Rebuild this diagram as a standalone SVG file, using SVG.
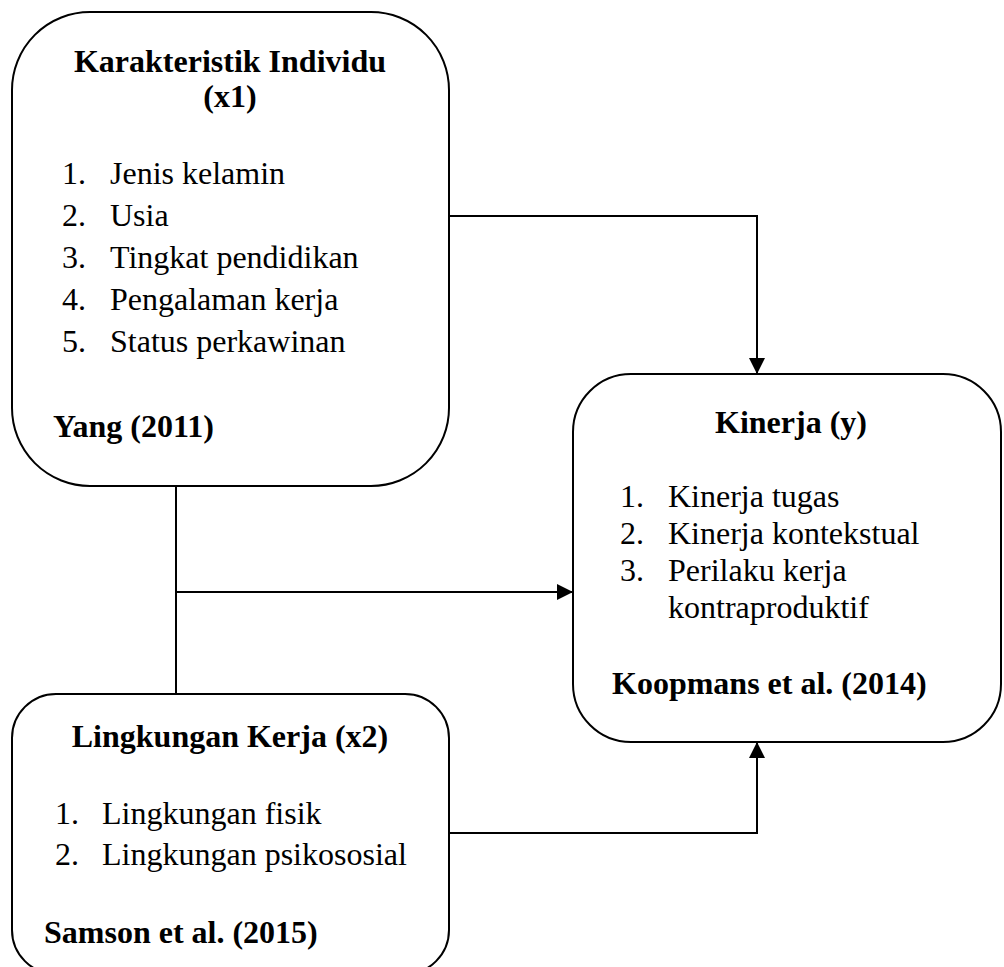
<svg xmlns="http://www.w3.org/2000/svg" width="1004" height="967" viewBox="0 0 1004 967">
  <style>
    .box { fill: #ffffff; stroke: #000000; stroke-width: 2; }
    .line { fill: none; stroke: #000000; stroke-width: 2; }
    text { font-family: "Liberation Serif", "Times New Roman", serif; font-size: 32px; fill: #000000; }
    .b { font-weight: bold; }
    .c { text-anchor: middle; }
  </style>
  <defs>
    <marker id="ah" markerWidth="16" markerHeight="16" refX="16" refY="8" orient="auto" markerUnits="userSpaceOnUse">
      <path d="M0,0 L16,8 L0,16 z" fill="#000000"/>
    </marker>
  </defs>
  <rect width="1004" height="967" fill="#ffffff"/>

  <g id="connectors">
    <polyline class="line" points="449,216 757,216 757,374" marker-end="url(#ah)"/>
    <line class="line" x1="176" y1="486" x2="176" y2="694"/>
    <line class="line" x1="176" y1="592" x2="573" y2="592" marker-end="url(#ah)"/>
    <polyline class="line" points="449,833 757,833 757,742" marker-end="url(#ah)"/>
  </g>

  <g id="node-x1">
    <rect class="box" x="12" y="12" width="437" height="474" rx="78" ry="78"/>
    <text class="b c" x="230" y="72">Karakteristik Individu</text>
    <text class="b c" x="230" y="107">(x1)</text>
    <text x="62" y="184">1.</text><text x="110" y="184">Jenis kelamin</text>
    <text x="62" y="226">2.</text><text x="110" y="226">Usia</text>
    <text x="62" y="268">3.</text><text x="110" y="268">Tingkat pendidikan</text>
    <text x="62" y="310">4.</text><text x="110" y="310">Pengalaman kerja</text>
    <text x="62" y="352">5.</text><text x="110" y="352">Status perkawinan</text>
    <text class="b" x="53" y="437">Yang (2011)</text>
  </g>

  <g id="node-y">
    <rect class="box" x="573" y="374" width="428" height="368" rx="58" ry="58"/>
    <text class="b c" x="791" y="433">Kinerja (y)</text>
    <text x="620" y="507">1.</text><text x="668" y="507">Kinerja tugas</text>
    <text x="620" y="544">2.</text><text x="668" y="544">Kinerja kontekstual</text>
    <text x="620" y="581">3.</text><text x="668" y="581">Perilaku kerja</text>
    <text x="668" y="618">kontraproduktif</text>
    <text class="b" x="612" y="694">Koopmans et al. (2014)</text>
  </g>

  <g id="node-x2">
    <rect class="box" x="12" y="694" width="437" height="280" rx="44" ry="44"/>
    <text class="b c" x="230" y="747">Lingkungan Kerja (x2)</text>
    <text x="55" y="824">1.</text><text x="102" y="824">Lingkungan fisik</text>
    <text x="55" y="865">2.</text><text x="102" y="865">Lingkungan psikososial</text>
    <text class="b" x="44" y="943">Samson et al. (2015)</text>
  </g>
</svg>
